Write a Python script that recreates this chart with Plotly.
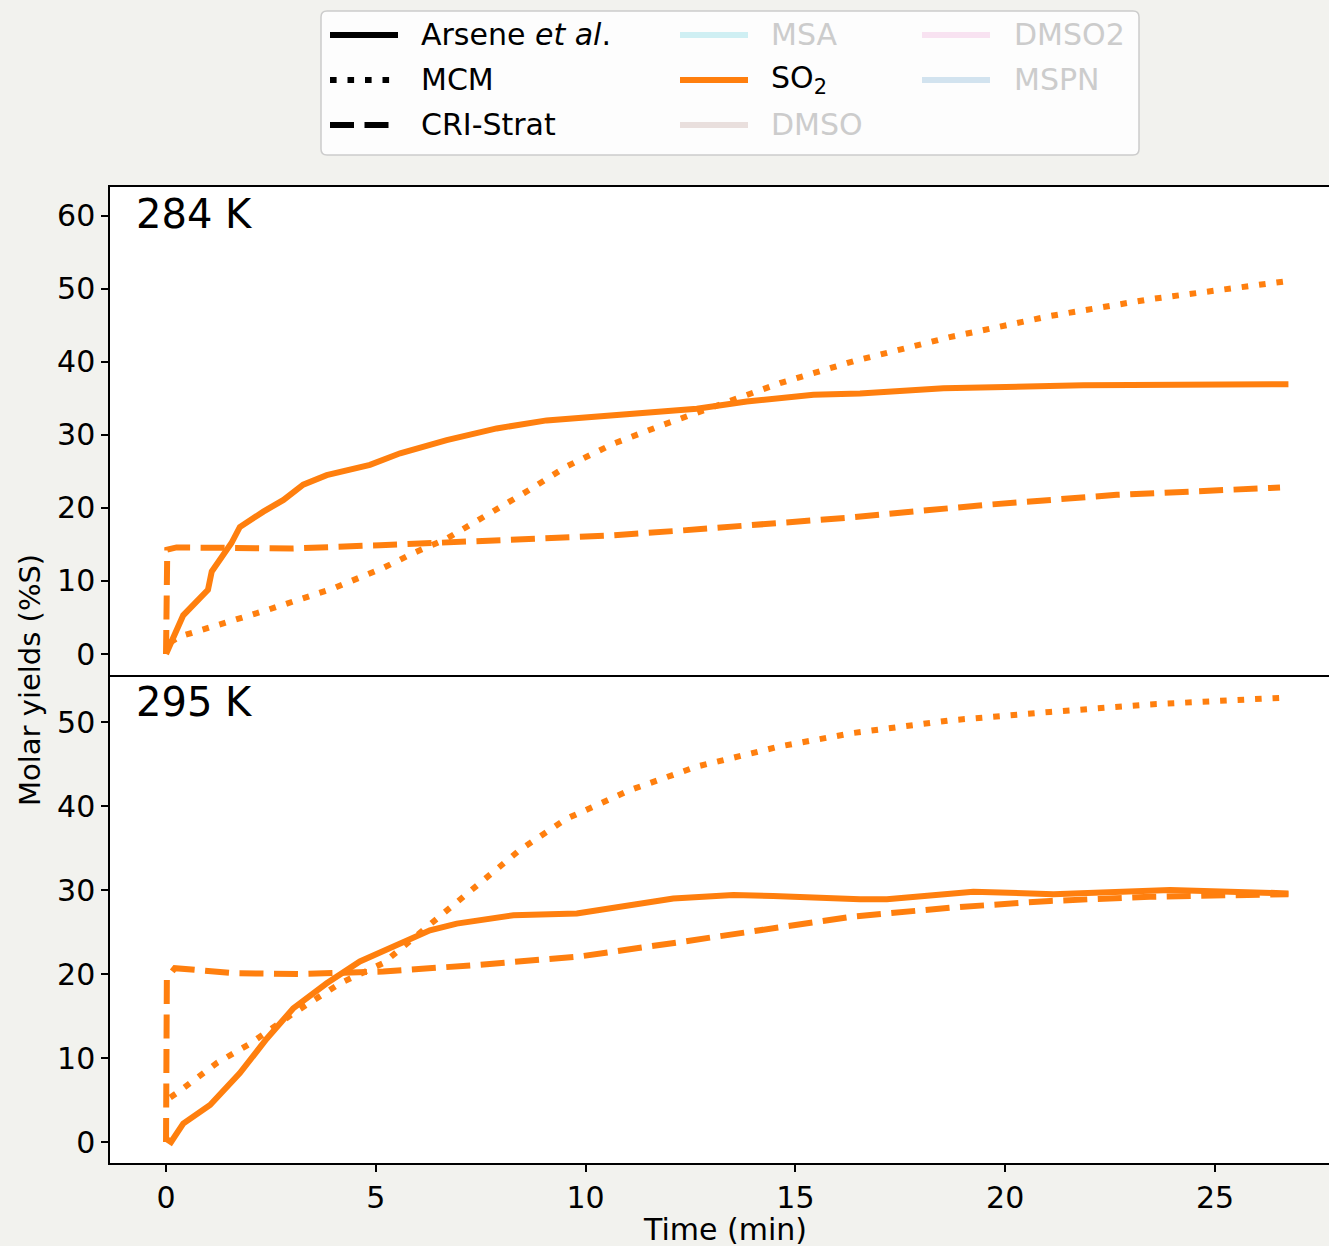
import plotly.graph_objects as go
from plotly.subplots import make_subplots

# ---------------- data ----------------
# 284 K panel
t_284_obs = [0, 0.41, 1.0, 1.09, 1.56, 1.76, 2.32, 2.8, 3.27, 3.83, 4.86, 5.58, 6.69, 7.88,
             9.07, 10.66, 12.65, 13.84, 15.43, 16.54, 18.53, 21.86, 24.25, 26.75]
y_284_obs = [0, 5.3, 8.8, 11.3, 15.2, 17.4, 19.5, 21.1, 23.2, 24.5, 25.9, 27.5, 29.3, 30.9,
             32.0, 32.7, 33.6, 34.6, 35.5, 35.7, 36.4, 36.8, 36.9, 36.95]
t_284_mcm = [0.1, 0.33, 2.4, 3.99, 5.18, 5.89, 6.69, 7.48, 8.52, 9.55, 10.66, 11.85, 13.04,
             14.63, 16.38, 18.68, 21.07, 23.45, 26.75]
y_284_mcm = [1.6, 2.4, 6.0, 9.0, 11.8, 13.8, 15.8, 18.4, 22.0, 25.7, 28.8, 31.4, 33.9,
             37.1, 40.1, 43.4, 46.3, 48.6, 51.1]
t_284_cri = [0, 0.03, 0.25, 1.5, 3.0, 5.1, 7.0, 9.07, 10.5, 12.25, 14.0, 16.3, 19.48, 22.66, 26.55]
y_284_cri = [0, 14.3, 14.6, 14.5, 14.45, 14.9, 15.3, 15.8, 16.2, 16.9, 17.6, 18.7, 20.4, 21.8, 22.8]

# 295 K panel
t_295_obs = [0, 0.12, 0.41, 1.05, 1.76, 2.4, 3.03, 3.83, 4.62, 5.58, 6.29, 6.93, 8.28, 9.79,
             12.09, 13.52, 14.47, 16.54, 17.18, 19.24, 21.15, 23.93, 26.75]
y_295_obs = [0.4, 0.0, 2.2, 4.4, 8.2, 12.3, 15.9, 18.9, 21.5, 23.7, 25.2, 26.0, 27.0, 27.2,
             29.0, 29.4, 29.3, 28.9, 28.9, 29.8, 29.5, 30.0, 29.6]
t_295_mcm = [0.1, 0.25, 1.21, 2.0, 3.03, 4.15, 5.18, 6.21, 7.48, 8.44, 9.55, 11.06, 12.65,
             14.63, 16.38, 18.68, 21.07, 23.45, 25.83, 26.67]
y_295_mcm = [5.3, 5.8, 9.4, 11.7, 15.3, 18.9, 21.3, 25.6, 31.0, 34.8, 38.5, 41.9, 44.7,
             47.1, 48.7, 50.2, 51.2, 52.1, 52.7, 52.9]
t_295_cri = [0, 0.02, 0.21, 1.6, 3.19, 5.18, 7.48, 9.87, 12.25, 14.63, 16.3, 18.68, 21.07, 23.45, 26.75]
y_295_cri = [0, 19.5, 20.7, 20.1, 20.0, 20.3, 21.1, 22.1, 23.8, 25.6, 26.8, 27.9, 28.7, 29.2, 29.5]

x_ticks = [0, 5, 10, 15, 20, 25]
y_ticks_284 = [0, 10, 20, 30, 40, 50, 60]
y_ticks_295 = [0, 10, 20, 30, 40, 50]
panel_labels = ["284 K", "295 K"]

legend_styles = ["Arsene <i>et al</i>.", "MCM", "CRI-Strat"]
legend_species = ["MSA", "SO<sub>2</sub>", "DMSO", "DMSO2", "MSPN"]
species_colors = ["#cfeff3", "#ff7f0e", "#e9dfdd", "#f8e2f1", "#d2e3ef"]
species_text = ["#cccccc", "#000000", "#cccccc", "#cccccc", "#cccccc"]

# ---------------- styling ----------------
W, H = 1329, 1246
ML, MR, MT, MB = 110, 0, 187, 83
ORANGE = "#ff7f0e"
LW = 6
DOT = "6.6px,10.9px"
DASH = "24px,10.5px"
FONT = "DejaVu Sans"
FS = 30

fig = make_subplots(rows=2, cols=1, shared_xaxes=True, vertical_spacing=0)

panels = [
    (t_284_obs, y_284_obs, t_284_mcm, y_284_mcm, t_284_cri, y_284_cri),
    (t_295_obs, y_295_obs, t_295_mcm, y_295_mcm, t_295_cri, y_295_cri),
]
for i, (to, yo, tm, ym, tc, yc) in enumerate(panels):
    r = i + 1
    fig.add_trace(go.Scatter(x=tc, y=yc, mode="lines",
                             line=dict(color=ORANGE, width=LW, dash=DASH),
                             showlegend=False), row=r, col=1)
    fig.add_trace(go.Scatter(x=tm, y=ym, mode="lines",
                             line=dict(color=ORANGE, width=LW, dash=DOT),
                             showlegend=False), row=r, col=1)
    fig.add_trace(go.Scatter(x=to, y=yo, mode="lines",
                             line=dict(color=ORANGE, width=LW),
                             showlegend=False), row=r, col=1)

axis_common = dict(showgrid=False, zeroline=False, showline=True, linecolor="black",
                   linewidth=1.5, tickfont=dict(family=FONT, size=FS, color="black"))
x_range = [-1.335, 27.717]
fig.update_layout(
    xaxis=dict(range=x_range, mirror=True, ticks="", showticklabels=False, **axis_common),
    xaxis2=dict(range=x_range, mirror=False, ticks="outside", ticklen=7, tickwidth=1.5,
                tickcolor="black", tickvals=x_ticks, **axis_common),
    yaxis=dict(range=[-2.877, 63.97], ticks="outside", ticklen=7, tickwidth=1.5,
               tickcolor="black", tickvals=y_ticks_284, **axis_common),
    yaxis2=dict(range=[-2.5, 55.6], ticks="outside", ticklen=7, tickwidth=1.5,
                tickcolor="black", tickvals=y_ticks_295, **axis_common),
)

# panel labels
for i, lab in enumerate(panel_labels):
    yref = "y domain" if i == 0 else "y2 domain"
    xref = "x domain" if i == 0 else "x2 domain"
    fig.add_annotation(text=lab, x=0.0195, y=0.945, xref=xref, yref=yref,
                       xanchor="left", yanchor="middle", showarrow=False,
                       font=dict(family=FONT, size=40, color="black"))

PW = W - ML - MR
PH = H - MT - MB


def px(x):
    return (x - ML) / PW


def py(y):
    return (H - MB - y) / PH


# axis titles
fig.add_annotation(text="Molar yields (%S)", x=px(30), y=py(680), xref="paper", yref="paper",
                   textangle=-90, showarrow=False, xanchor="center", yanchor="middle",
                   font=dict(family=FONT, size=29, color="black"))
fig.add_annotation(text="Time (min)", x=px(725), y=py(1229), xref="paper", yref="paper",
                   showarrow=False, xanchor="center", yanchor="middle",
                   font=dict(family=FONT, size=30, color="black"))

# ---------------- legend box (rounded) ----------------
bx0, bx1, by0, by1, rad = 321, 1139, 11, 155, 6
path = (f"M {px(bx0 + rad)},{py(by0)} L {px(bx1 - rad)},{py(by0)} "
        f"Q {px(bx1)},{py(by0)} {px(bx1)},{py(by0 + rad)} "
        f"L {px(bx1)},{py(by1 - rad)} Q {px(bx1)},{py(by1)} {px(bx1 - rad)},{py(by1)} "
        f"L {px(bx0 + rad)},{py(by1)} Q {px(bx0)},{py(by1)} {px(bx0)},{py(by1 - rad)} "
        f"L {px(bx0)},{py(by0 + rad)} Q {px(bx0)},{py(by0)} {px(bx0 + rad)},{py(by0)} Z")
fig.add_shape(type="path", path=path, xref="paper", yref="paper",
              line=dict(color="#cccccc", width=1.5), fillcolor="rgba(255,255,255,0.85)",
              layer="above")
rows_y = [35, 80, 125]
style_dash = ["solid", DOT, DASH]
for lab, dsh, yy in zip(legend_styles, style_dash, rows_y):
    fig.add_shape(type="line", xref="paper", yref="paper", x0=px(330), x1=px(398),
                  y0=py(yy), y1=py(yy), line=dict(color="black", width=LW, dash=dsh),
                  layer="above")
    fig.add_annotation(text=lab, x=px(419), y=py(yy), xref="paper", yref="paper",
                       xanchor="left", yanchor="middle", showarrow=False,
                       font=dict(family=FONT, size=FS, color="black"))

species_pos = [(680, 769, 35), (680, 769, 80), (680, 769, 125), (922, 1012, 35), (922, 1012, 80)]
for lab, col, tcol, (lx, tx, yy) in zip(legend_species, species_colors, species_text, species_pos):
    fig.add_shape(type="line", xref="paper", yref="paper", x0=px(lx), x1=px(lx + 68),
                  y0=py(yy), y1=py(yy), line=dict(color=col, width=LW), layer="above")
    fig.add_annotation(text=lab, x=px(tx), y=py(yy), xref="paper", yref="paper",
                       xanchor="left", yanchor="middle", showarrow=False,
                       font=dict(family=FONT, size=FS, color=tcol))

fig.update_layout(
    width=W, height=H,
    margin=dict(l=ML, r=MR, t=MT, b=MB),
    paper_bgcolor="#f2f2ee", plot_bgcolor="white",
    showlegend=False,
)

fig.write_html("out.html")
